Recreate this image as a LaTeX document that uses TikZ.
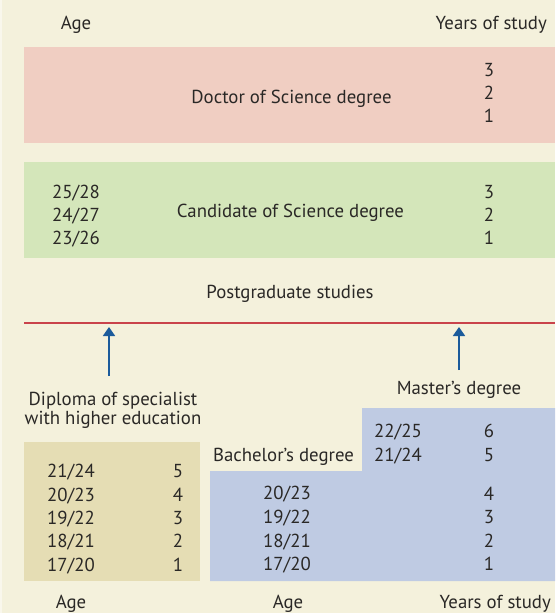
\documentclass[tikz,border=0pt]{standalone}
\usepackage{fontspec}
\setmainfont{PT Sans}
\usetikzlibrary{arrows.meta}
\definecolor{bgc}{HTML}{F4F1DC}
\definecolor{edgec}{HTML}{F9F7EC}
\definecolor{pinkc}{HTML}{F0CEC2}
\definecolor{greenc}{HTML}{D4E6BA}
\definecolor{tanc}{HTML}{E5DDB4}
\definecolor{bluec}{HTML}{BFCBE3}
\definecolor{redc}{HTML}{C9434B}
\definecolor{arrc}{HTML}{1B5B9B}
\definecolor{txtc}{HTML}{2A2826}
\tikzset{
  txt/.style={inner sep=0pt, anchor=base, text=txtc, font=\fontsize{18.8}{22}\selectfont},
  txtr/.style={txt, anchor=base east},
  upar/.style={draw=arrc, line width=1.8pt, -{Triangle[width=12pt,length=9pt]}},
}
\begin{document}
\begin{tikzpicture}[x=1pt,y=-1pt]
\fill[bgc] (0,0) rectangle (555,613);
\fill[edgec] (0,0) rectangle (2,613);
\useasboundingbox (0,0) rectangle (555,613);
% boxes
\fill[pinkc] (24,47) rectangle (555,143);
\fill[greenc] (24,162) rectangle (555,258);
\fill[tanc] (24,442) rectangle (200,581);
\fill[bluec] (210,471) -- (362,471) -- (362,408) -- (555,408) -- (555,581) -- (210,581) -- cycle;
\draw[redc, line width=1.5pt] (24,323) -- (555,323);
% top headers
\node[txt] (agetop) at (76,29) {Age};
\node[txtr] (yostop) at (547,29) {Years of study};
% doctor
\node[txt] (doc) at (291.5,103) {Doctor of Science degree};
\node[txt] (d3) at (489,76.5) {3};
\node[txt] (d2) at (489,99.5) {2};
\node[txt] (d1) at (489,122.5) {1};
% candidate
\node[txt] (cand) at (290.5,217) {Candidate of Science degree};
\node[txt] (ca1) at (76,198) {25/28};
\node[txt] (ca2) at (76,221) {24/27};
\node[txt] (ca3) at (76,244.5) {23/26};
\node[txt] (c3) at (489,198) {3};
\node[txt] (c2) at (489,221) {2};
\node[txt] (c1) at (489,244.5) {1};
% postgraduate
\node[txt] (post) at (290,298) {Postgraduate studies};
% arrows
\coordinate (a1s) at (109,376);
\coordinate (a1e) at (109,327);
\coordinate (a2s) at (459,370);
\coordinate (a2e) at (459,327);
\draw[upar] (a1s) -- (a1e);
\draw[upar] (a2s) -- (a2e);
% labels
\node[txt] (dip1) at (113,405) {Diploma of specialist};
\node[txt] (dip2) at (113,424) {with higher education};
\node[txt] (mast) at (459,394) {Master’s degree};
\node[txt] (bach) at (283.5,461) {Bachelor’s degree};
% tan box rows
\node[txt] (t5a) at (71,477) {21/24};
\node[txt] (t4a) at (71,501) {20/23};
\node[txt] (t3a) at (71,524) {19/22};
\node[txt] (t2a) at (71,547) {18/21};
\node[txt] (t1a) at (71,571) {17/20};
\node[txt] (t5) at (178,477) {5};
\node[txt] (t4) at (178,501) {4};
\node[txt] (t3) at (178,524) {3};
\node[txt] (t2) at (178,547) {2};
\node[txt] (t1) at (178,571) {1};
% blue rows
\node[txt] (b6a) at (398,437) {22/25};
\node[txt] (b5a) at (398,461) {21/24};
\node[txt] (b6) at (489,437) {6};
\node[txt] (b5) at (489,461) {5};
\node[txt] (b4a) at (287,499.5) {20/23};
\node[txt] (b3a) at (287,523) {19/22};
\node[txt] (b2a) at (287,547) {18/21};
\node[txt] (b1a) at (287,570) {17/20};
\node[txt] (b4) at (489,500) {4};
\node[txt] (b3) at (489,523.5) {3};
\node[txt] (b2) at (489,547.5) {2};
\node[txt] (b1) at (489,570.5) {1};
% bottom headers
\node[txt] (agebot1) at (71,608) {Age};
\node[txt] (agebot2) at (288,608) {Age};
\node[txtr] (yosbot) at (551,608) {Years of study};
\end{tikzpicture}
\end{document}
